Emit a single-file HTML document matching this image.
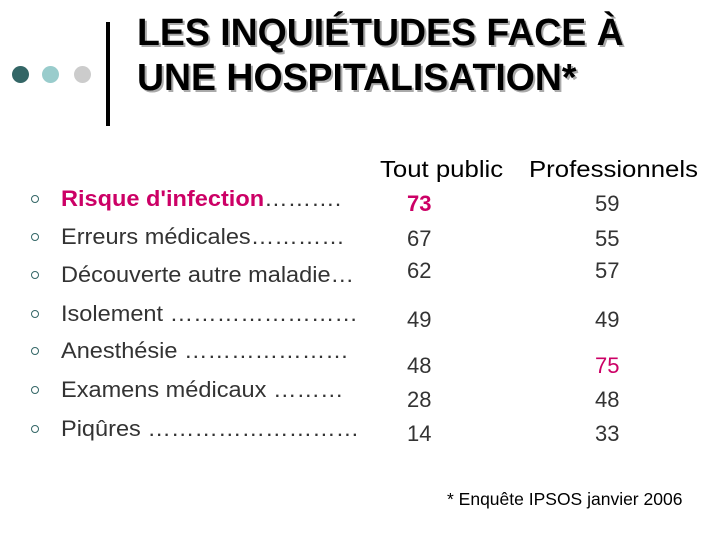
<!DOCTYPE html>
<html><head><meta charset="utf-8"><style>
body{margin:0;width:720px;height:540px;background:#fff;position:relative;overflow:hidden;font-family:"Liberation Sans",sans-serif;}
.a{position:absolute;white-space:nowrap;line-height:1;}
.t{font-weight:bold;font-size:38px;color:#000;text-shadow:2px 2px 0 #aaa;transform:scaleX(0.985);transform-origin:left;}
.lab{font-size:22px;color:#333;transform:scaleX(1.07);transform-origin:left;}
.num{font-size:22px;color:#333;}
.pink{color:#cc0066;font-weight:bold;}
.bul{position:absolute;width:6px;height:6px;border:1.5px solid #336666;border-radius:50%;}
.dot{position:absolute;width:17px;height:17px;border-radius:50%;}
.hd{font-size:23px;transform:scaleX(1.12);transform-origin:left;}
</style></head><body>
<div class="dot" style="left:12px;top:66px;background:#336666"></div>
<div class="dot" style="left:42px;top:66px;background:#99cccc"></div>
<div class="dot" style="left:74px;top:66px;background:#cccccc"></div>
<div class="a" style="left:106px;top:22px;width:4px;height:104px;background:#000"></div>
<div class="a t" style="left:137px;top:14px">LES INQUIÉTUDES FACE À</div>
<div class="a t" style="left:137px;top:59px">UNE HOSPITALISATION*</div>
<div class="a hd" style="left:380px;top:158px">Tout public</div>
<div class="a hd" style="left:529px;top:158px">Professionnels</div>
<div class="a" style="left:447px;top:491px;font-size:17.5px">* Enquête IPSOS janvier 2006</div>
<script>
const labels=["Risque d'infection……….","Erreurs médicales…………","Découverte autre maladie…","Isolement ……………………","Anesthésie …………………","Examens médicaux ………","Piqûres ………………………"];
const toutPublic=[73,67,62,49,48,28,14];
const professionnels=[59,55,57,49,75,48,33];
const labelY=[199,237,275,314,351,390,429];
const numY=[204,239,271,320,366,400,434];
const root=document.body;
labels.forEach((l,i)=>{
  const b=document.createElement('div');b.className='bul';
  
  
  b.style.left='31px';b.style.top=(labelY[i]-4)+'px';root.appendChild(b);
  const d=document.createElement('div');d.className='a lab'+(i===0?' pink':'');
  
  
  d.style.left='61px';d.style.top=(labelY[i]-11)+'px';
  if(i===0){d.innerHTML="Risque d'infection<span style='color:#333;font-weight:normal'>……….</span>";}else d.textContent=l;
  root.appendChild(d);
  const n1=document.createElement('div');n1.className='a num'+(toutPublic[i]>70?' pink':'');
  
  
  n1.style.left='407px';n1.style.top=(numY[i]-11)+'px';n1.textContent=toutPublic[i];root.appendChild(n1);
  const n2=document.createElement('div');n2.className='a num'+(professionnels[i]>70?' pink':'');
  if(professionnels[i]>70)n2.style.fontWeight='normal';
  
  
  n2.style.left='595px';n2.style.top=(numY[i]-11)+'px';n2.textContent=professionnels[i];root.appendChild(n2);
});
</script>
</body></html>
